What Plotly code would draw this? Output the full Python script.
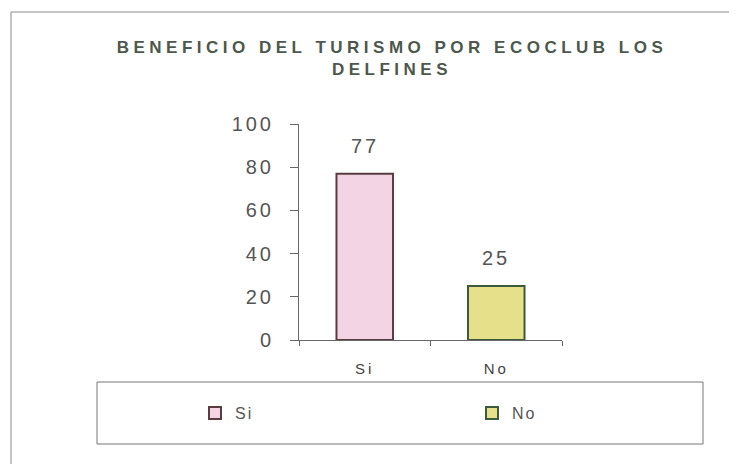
import plotly.graph_objects as go

categories = ["Si", "No"]
values = [77, 25]
y_ticks = [0, 20, 40, 60, 80, 100]
title_lines = ["BENEFICIO DEL TURISMO POR ECOCLUB LOS", "DELFINES"]

fill_colors = ["#f2d4e4", "#e6e08a"]
line_colors = ["#5a3c40", "#3c5a3c"]

# the page body adds an 8px margin, so work in page pixels and shift
OFF = 8
W, H = 737 - OFF, 464 - OFF
L, R, T, B = 299 - OFF, 562 - OFF, 124 - OFF, 340 - OFF


def px_x(x):
    return (x - OFF - L) / (R - L)


def px_y(y):
    return (B - (y - OFF)) / (B - T)


def spaced(text, sp):
    return f'<span style="letter-spacing:{sp}px">{text}</span>'


# one legend per series so the two entries can sit far apart below the plot
legend_ids = ["legend", "legend2"]
legend_x = [195, 472]

fig = go.Figure()
for cat, val, fc, lc, lg in zip(categories, values, fill_colors, line_colors, legend_ids):
    fig.add_bar(
        x=[cat],
        y=[val],
        name=spaced(cat, 2),
        marker={"color": fc, "line": {"color": lc, "width": 2}},
        width=0.43,
        legend=lg,
    )
    fig.add_annotation(
        x=cat,
        y=val,
        text=spaced(str(val), 3),
        showarrow=False,
        yanchor="middle",
        yshift=28,
        font={"size": 20, "color": "#555555"},
    )

legend_style = {
    "orientation": "h",
    "xanchor": "left",
    "y": px_y(413),
    "yanchor": "middle",
    "font": {"size": 16, "color": "#555555"},
    "bgcolor": "rgba(0,0,0,0)",
    "borderwidth": 0,
}

fig.update_layout(
    width=W,
    height=H,
    margin={"l": L, "r": W - R, "t": T, "b": H - B, "pad": 0},
    paper_bgcolor="white",
    plot_bgcolor="white",
    font={"family": "Liberation Sans, Arial, sans-serif", "color": "#555555"},
    showlegend=True,
    barmode="overlay",
    title={
        "text": "<br>".join(spaced(t, 4.5) for t in title_lines),
        "x": px_x(392),
        "xref": "paper",
        "xanchor": "center",
        "y": 1 - 45 / H,
        "yanchor": "top",
        "font": {"size": 17, "color": "#4d584d", "weight": "bold"},
    },
    legend={**legend_style, "x": px_x(legend_x[0])},
    legend2={**legend_style, "x": px_x(legend_x[1])},
    xaxis={
        "showline": True,
        "linecolor": "#666666",
        "linewidth": 1,
        "ticks": "outside",
        "tickson": "boundaries",
        "ticklen": 5,
        "tickcolor": "#666666",
        "tickvals": categories,
        "ticktext": [spaced(c, 3) for c in categories],
        "tickfont": {"size": 15, "color": "#444444"},
        "ticklabelstandoff": 15,
        "showgrid": False,
        "zeroline": False,
    },
    yaxis={
        "range": [0, 100],
        "showline": True,
        "linecolor": "#666666",
        "linewidth": 1,
        "ticks": "outside",
        "ticklen": 8,
        "tickcolor": "#666666",
        "tickvals": y_ticks,
        "ticktext": [spaced(str(v), 3) for v in y_ticks],
        "tickfont": {"size": 20, "color": "#555555"},
        "ticklabelstandoff": 12,
        "showgrid": False,
        "zeroline": False,
    },
    shapes=[
        # outer chart border
        {
            "type": "rect", "xref": "paper", "yref": "paper",
            "x0": px_x(11), "x1": px_x(760), "y0": px_y(480), "y1": px_y(12),
            "line": {"color": "#8a8a8a", "width": 1},
        },
        # legend box
        {
            "type": "rect", "xref": "paper", "yref": "paper",
            "x0": px_x(97), "x1": px_x(703), "y0": px_y(444), "y1": px_y(382),
            "line": {"color": "#777777", "width": 1},
        },
    ],
)

fig.write_html("out.html")
